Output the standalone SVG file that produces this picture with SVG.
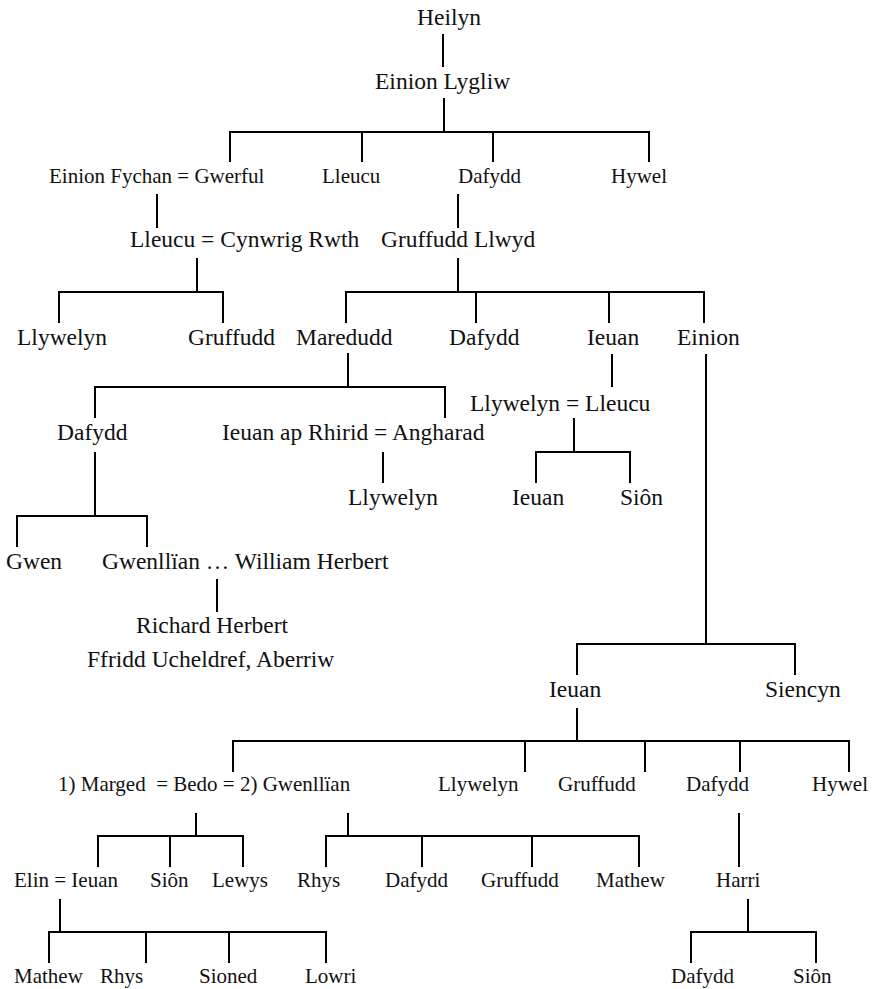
<svg xmlns="http://www.w3.org/2000/svg" width="876" height="989" viewBox="0 0 876 989">
<style>
text{font-family:"Liberation Serif","Times New Roman",serif;fill:#111;white-space:pre}
.t{font-size:23.5px}
.s{font-size:21px}
#connectors line{stroke:#000;stroke-width:2;fill:none}
</style>
<rect width="876" height="989" fill="#fff"/>
<g id="connectors">
<line x1="443" y1="34" x2="443" y2="67"/>
<line x1="444" y1="98" x2="444" y2="132"/>
<line x1="229" y1="132" x2="650" y2="132"/>
<line x1="230" y1="132" x2="230" y2="162"/>
<line x1="362" y1="132" x2="362" y2="162"/>
<line x1="493" y1="132" x2="493" y2="162"/>
<line x1="649" y1="132" x2="649" y2="162"/>
<line x1="157" y1="194" x2="157" y2="228"/>
<line x1="458" y1="194" x2="458" y2="228"/>
<line x1="197" y1="258" x2="197" y2="292"/>
<line x1="58" y1="292" x2="224" y2="292"/>
<line x1="59" y1="292" x2="59" y2="323"/>
<line x1="223" y1="292" x2="223" y2="323"/>
<line x1="458" y1="258" x2="458" y2="292"/>
<line x1="345" y1="292" x2="705" y2="292"/>
<line x1="346" y1="292" x2="346" y2="323"/>
<line x1="476" y1="292" x2="476" y2="323"/>
<line x1="609" y1="292" x2="609" y2="323"/>
<line x1="704" y1="292" x2="704" y2="323"/>
<line x1="348" y1="353" x2="348" y2="387"/>
<line x1="94" y1="387" x2="446" y2="387"/>
<line x1="95" y1="387" x2="95" y2="418"/>
<line x1="445" y1="387" x2="445" y2="418"/>
<line x1="612" y1="354" x2="612" y2="387"/>
<line x1="706" y1="354" x2="706" y2="644"/>
<line x1="576" y1="644" x2="796" y2="644"/>
<line x1="577" y1="644" x2="577" y2="675"/>
<line x1="795" y1="644" x2="795" y2="675"/>
<line x1="574" y1="418" x2="574" y2="452"/>
<line x1="535" y1="452" x2="631" y2="452"/>
<line x1="536" y1="452" x2="536" y2="483"/>
<line x1="630" y1="452" x2="630" y2="483"/>
<line x1="383" y1="452" x2="383" y2="483"/>
<line x1="95" y1="452" x2="95" y2="516"/>
<line x1="16" y1="516" x2="148" y2="516"/>
<line x1="17" y1="516" x2="17" y2="547"/>
<line x1="147" y1="516" x2="147" y2="547"/>
<line x1="217" y1="579" x2="217" y2="612"/>
<line x1="577" y1="708" x2="577" y2="741"/>
<line x1="232" y1="741" x2="850" y2="741"/>
<line x1="233" y1="741" x2="233" y2="772"/>
<line x1="525" y1="741" x2="525" y2="772"/>
<line x1="645" y1="741" x2="645" y2="772"/>
<line x1="740" y1="741" x2="740" y2="772"/>
<line x1="849" y1="741" x2="849" y2="772"/>
<line x1="196" y1="813" x2="196" y2="836"/>
<line x1="97" y1="836" x2="244" y2="836"/>
<line x1="98" y1="836" x2="98" y2="867"/>
<line x1="170" y1="836" x2="170" y2="867"/>
<line x1="243" y1="836" x2="243" y2="867"/>
<line x1="348" y1="813" x2="348" y2="836"/>
<line x1="325" y1="836" x2="640" y2="836"/>
<line x1="326" y1="836" x2="326" y2="867"/>
<line x1="422" y1="836" x2="422" y2="867"/>
<line x1="532" y1="836" x2="532" y2="867"/>
<line x1="639" y1="836" x2="639" y2="867"/>
<line x1="739" y1="813" x2="739" y2="867"/>
<line x1="60" y1="899" x2="60" y2="932"/>
<line x1="48" y1="932" x2="327" y2="932"/>
<line x1="49" y1="932" x2="49" y2="963"/>
<line x1="146" y1="932" x2="146" y2="963"/>
<line x1="229" y1="932" x2="229" y2="963"/>
<line x1="326" y1="932" x2="326" y2="963"/>
<line x1="748" y1="899" x2="748" y2="932"/>
<line x1="690" y1="932" x2="817" y2="932"/>
<line x1="691" y1="932" x2="691" y2="963"/>
<line x1="816" y1="932" x2="816" y2="963"/>
</g>
<g id="n-heilyn"><text class="t" x="417" y="25">Heilyn</text></g>
<g id="n-einion-lygliw"><text class="t" x="375" y="89">Einion Lygliw</text></g>
<g id="n-einion-fychan"><text class="s" x="49" y="183">Einion Fychan = Gwerful</text></g>
<g id="n-lleucu1"><text class="s" x="322" y="183">Lleucu</text></g>
<g id="n-dafydd1"><text class="s" x="458" y="183">Dafydd</text></g>
<g id="n-hywel1"><text class="s" x="611" y="183">Hywel</text></g>
<g id="n-lleucu-cynwrig"><text class="t" x="130" y="247">Lleucu = Cynwrig Rwth</text></g>
<g id="n-gruffudd-llwyd"><text class="t" x="381" y="247">Gruffudd Llwyd</text></g>
<g id="n-llywelyn1"><text class="t" x="17" y="345">Llywelyn</text></g>
<g id="n-gruffudd1"><text class="t" x="188" y="345">Gruffudd</text></g>
<g id="n-maredudd"><text class="t" x="296" y="345">Maredudd</text></g>
<g id="n-dafydd2"><text class="t" x="449" y="345">Dafydd</text></g>
<g id="n-ieuan1"><text class="t" x="587" y="345">Ieuan</text></g>
<g id="n-einion"><text class="t" x="677" y="345">Einion</text></g>
<g id="n-llywelyn-lleucu"><text class="t" x="470" y="411">Llywelyn = Lleucu</text></g>
<g id="n-dafydd3"><text class="t" x="57" y="440">Dafydd</text></g>
<g id="n-ieuan-ap-rhirid"><text class="t" x="222" y="440">Ieuan ap Rhirid = Angharad</text></g>
<g id="n-llywelyn2"><text class="t" x="348" y="505">Llywelyn</text></g>
<g id="n-ieuan2"><text class="t" x="512" y="505">Ieuan</text></g>
<g id="n-sion1"><text class="t" x="620" y="505">Siôn</text></g>
<g id="n-gwen"><text class="t" x="6" y="569">Gwen</text></g>
<g id="n-gwenllian1"><text class="t" x="102" y="569">Gwenllïan … William Herbert</text></g>
<g id="n-richard-herbert"><text class="t" x="136" y="633">Richard Herbert</text><text class="t" x="87" y="667">Ffridd Ucheldref, Aberriw</text></g>
<g id="n-ieuan3"><text class="t" x="549" y="697">Ieuan</text></g>
<g id="n-siencyn"><text class="t" x="765" y="697">Siencyn</text></g>
<g id="n-bedo"><text class="s" x="58" y="791">1) Marged  = Bedo = 2) Gwenllïan</text></g>
<g id="n-llywelyn3"><text class="s" x="438" y="791">Llywelyn</text></g>
<g id="n-gruffudd2"><text class="s" x="558" y="791">Gruffudd</text></g>
<g id="n-dafydd4"><text class="s" x="686" y="791">Dafydd</text></g>
<g id="n-hywel2"><text class="s" x="812" y="791">Hywel</text></g>
<g id="n-elin-ieuan"><text class="s" x="14" y="887">Elin = Ieuan</text></g>
<g id="n-sion2"><text class="s" x="150" y="887">Siôn</text></g>
<g id="n-lewys"><text class="s" x="212" y="887">Lewys</text></g>
<g id="n-rhys1"><text class="s" x="297" y="887">Rhys</text></g>
<g id="n-dafydd5"><text class="s" x="385" y="887">Dafydd</text></g>
<g id="n-gruffudd3"><text class="s" x="481" y="887">Gruffudd</text></g>
<g id="n-mathew1"><text class="s" x="596" y="887">Mathew</text></g>
<g id="n-harri"><text class="s" x="716" y="887">Harri</text></g>
<g id="n-mathew2"><text class="s" x="14" y="983">Mathew</text></g>
<g id="n-rhys2"><text class="s" x="100" y="983">Rhys</text></g>
<g id="n-sioned"><text class="s" x="199" y="983">Sioned</text></g>
<g id="n-lowri"><text class="s" x="305" y="983">Lowri</text></g>
<g id="n-dafydd6"><text class="s" x="671" y="983">Dafydd</text></g>
<g id="n-sion3"><text class="s" x="793" y="983">Siôn</text></g>
</svg>
